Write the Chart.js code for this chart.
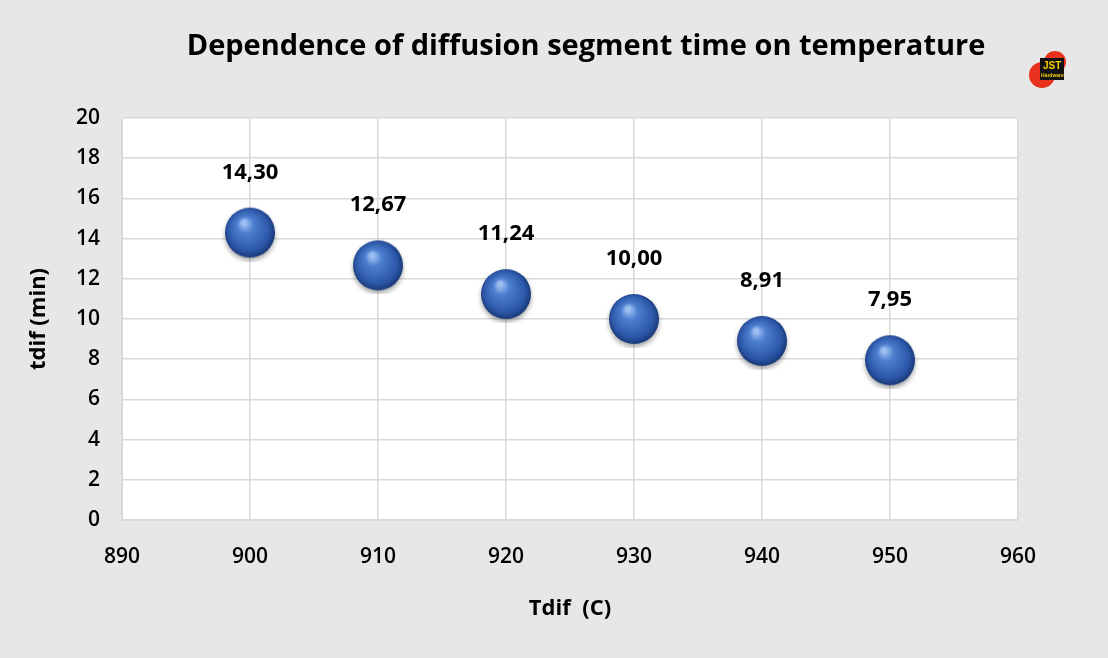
<!DOCTYPE html>
<html>
<head>
<meta charset="utf-8">
<script src="https://cdn.jsdelivr.net/npm/chart.js@4"></script>
<style>
body { margin:0; background:#e7e7e7; }
#wrap { position:relative; width:1108px; height:658px; }
#logo { position:absolute; left:1028px; top:48px; }
</style>
</head>
<body>
<div id="wrap">
<canvas id="myChart" width="1108" height="658"></canvas>
<canvas id="logo" width="44" height="44"></canvas>
</div>
<script>
var temps = [900, 910, 920, 930, 940, 950];
var times = [14.30, 12.67, 11.24, 10.00, 8.91, 7.95];
var xTicks = [890, 900, 910, 920, 930, 940, 950, 960];
var chartTitle = 'Dependence of diffusion segment time on temperature';

// sphere sprite
var R = 25;
var ball = document.createElement('canvas');
ball.width = ball.height = R * 2 + 8;
var b = ball.getContext('2d');
b.shadowColor = 'rgba(0,0,0,0.35)';
b.shadowBlur = 5; b.shadowOffsetY = 3;
var g = b.createRadialGradient(R - 2, R - 6, 2, R + 4, R + 4, R + 2);
g.addColorStop(0, '#9dc0f2');
g.addColorStop(0.25, '#4f7fd0');
g.addColorStop(0.75, '#2c57a8');
g.addColorStop(1, '#13306a');
b.fillStyle = g;
b.beginPath(); b.arc(R + 4, R + 4, R, 0, Math.PI * 2); b.fill();

// logo
var lc = document.getElementById('logo').getContext('2d');
lc.fillStyle = '#e8321e';
lc.beginPath(); lc.arc(27, 14, 11, 0, Math.PI * 2); lc.fill();
lc.beginPath(); lc.arc(14, 27, 13, 0, Math.PI * 2); lc.fill();
lc.fillStyle = '#111'; lc.fillRect(12, 10, 24, 22);
lc.fillStyle = '#f5d000'; lc.font = 'bold 10px Liberation Sans';
lc.fillText('JST', 15, 21);
lc.font = 'bold 5px Liberation Sans'; lc.fillText('Hardware', 13, 29);

var ctx = document.getElementById('myChart').getContext('2d');
Chart.defaults.font.family = 'Open Sans';
Chart.defaults.color = '#000';

var bgPlugin = {
    id: 'bg',
    beforeDraw: function(chart) {
        var a = chart.chartArea, c = chart.ctx;
        c.save(); c.fillStyle = '#fff';
        c.fillRect(a.left, a.top, a.right - a.left, a.bottom - a.top);
        c.font = 'bold 29px Open Sans';
        c.textAlign = 'center'; c.textBaseline = 'middle'; c.fillStyle = '#000';
        c.fillText(chartTitle, 586, 47);
        c.restore();
    },
    afterDatasetsDraw: function(chart) {
        var c = chart.ctx;
        c.save();
        c.font = 'bold 22px Open Sans';
        c.textAlign = 'center'; c.fillStyle = '#000';
        chart.getDatasetMeta(0).data.forEach(function(p, i) {
            c.fillText(times[i].toFixed(2).replace('.', ','), p.x, p.y - 54);
        });
        c.restore();
    }
};

var myChart = new Chart(ctx, {
    type: 'scatter',
    data: {
        datasets: [{
            data: temps.map(function(t, i) { return {x: t, y: times[i]}; }),
            pointStyle: ball,
            pointRadius: R
        }]
    },
    options: {
        responsive: false,
        animation: false,
        layout: { padding: { left: 22, right: 90, top: 118, bottom: 0 } },
        plugins: {
            legend: { display: false },
            tooltip: { enabled: false }
        },
        scales: {
            x: {
                type: 'linear', min: 890, max: 960,
                afterBuildTicks: function(s) { s.ticks = xTicks.map(function(v) { return {value: v}; }); },
                afterFit: function(s) { s.height = 138; },
                grid: { color: '#d9d9d9', lineWidth: 1.5, drawTicks: false },
                border: { color: '#d9d9d9' },
                ticks: { font: { size: 21, weight: 600 }, padding: 24 },
                title: { display: true, text: 'Tdif  (C)', font: { size: 22, weight: 'bold' }, padding: { top: 14, bottom: 36 } }
            },
            y: {
                min: 0, max: 20,
                afterFit: function(s) { s.width = 100; },
                grid: { color: '#d9d9d9', lineWidth: 1.5, drawTicks: false },
                border: { color: '#d9d9d9' },
                ticks: { stepSize: 2, font: { size: 21, weight: 600 }, padding: 22 },
                title: { display: true, text: 'tdif (min)', font: { size: 22, weight: 'bold' }, padding: { bottom: 4 } }
            }
        }
    },
    plugins: [bgPlugin]
});
</script>
</body>
</html>
